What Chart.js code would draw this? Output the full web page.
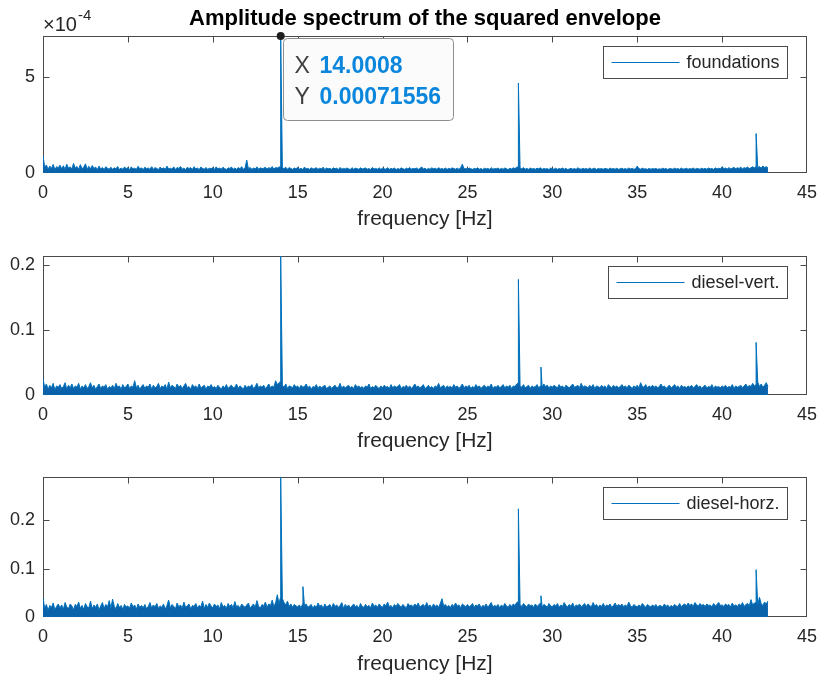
<!DOCTYPE html>
<html>
<head>
<meta charset="utf-8">
<script src="https://cdn.jsdelivr.net/npm/chart.js@4/dist/chart.umd.min.js"></script>
<style>
  html, body { margin: 0; padding: 0; background: #ffffff; }
  #wrap { position: relative; width: 817px; height: 680px; overflow: hidden; background: #ffffff; }
  #wrap canvas { position: absolute; left: 0; }
</style>
</head>
<body>
<div id="wrap">
  <canvas id="c1" width="817" height="235" style="top:0px"></canvas>
  <canvas id="c2" width="817" height="222" style="top:235px"></canvas>
  <canvas id="c3" width="817" height="223" style="top:457px"></canvas>
</div>
<script>
// ---- spectrum data -------------------------------------------------------
// Noise floor of each envelope spectrum, one value per spectral line
// (line spacing FREQ_STEP, starting at 0 Hz), plus the discrete peaks.
const FREQ_STEP = 0.1; // Hz

const xTicks = [0, 5, 10, 15, 20, 25, 30, 35, 40, 45];

const foundationsNoise = [
  9e-5,3.1e-5,4.2e-5,2e-5,3.6e-5,2.4e-5,4.5e-5,1.8e-5,3.3e-5,2.7e-5,
  4.1e-5,2.2e-5,3.8e-5,1.9e-5,4.6e-5,2.5e-5,3.2e-5,2.1e-5,5e-5,2.6e-5,
  3.4e-5,1.9e-5,4.4e-5,2.3e-5,3e-5,4.8e-5,2e-5,3.5e-5,2.2e-5,3.9e-5,
  2.4e-5,3.1e-5,1.7e-5,3.6e-5,2.1e-5,2.9e-5,1.8e-5,3.3e-5,2.5e-5,2e-5,
  3e-5,1.9e-5,2.7e-5,2.2e-5,3.4e-5,1.8e-5,2.6e-5,2e-5,3.1e-5,2.3e-5,
  2.8e-5,1.7e-5,3.2e-5,2.1e-5,2.5e-5,1.9e-5,3.5e-5,2.2e-5,2.7e-5,1.8e-5,
  3e-5,2.3e-5,2.6e-5,1.9e-5,3.3e-5,2e-5,2.8e-5,2.4e-5,1.8e-5,3.1e-5,
  2.2e-5,2.7e-5,1.9e-5,3.6e-5,2.1e-5,2.5e-5,2e-5,3.2e-5,1.8e-5,2.9e-5,
  2.4e-5,3.4e-5,2e-5,2.6e-5,1.7e-5,3e-5,2.3e-5,2.8e-5,1.9e-5,3.3e-5,
  2.1e-5,2.6e-5,1.8e-5,3.1e-5,2.4e-5,2e-5,2.9e-5,1.9e-5,2.5e-5,2.2e-5,
  2.8e-5,1.9e-5,3.2e-5,2.1e-5,2.6e-5,2e-5,3e-5,2.3e-5,1.8e-5,2.7e-5,
  2.4e-5,3.1e-5,2e-5,2.6e-5,1.9e-5,2.9e-5,2.2e-5,3.3e-5,2e-5,2.5e-5,
  6.8e-5,2.2e-5,2.9e-5,1.9e-5,2.6e-5,2.1e-5,3.2e-5,2e-5,2.7e-5,2.3e-5,
  2.5e-5,3e-5,2.1e-5,2.8e-5,2.4e-5,3.4e-5,2e-5,2.9e-5,2.6e-5,3.1e-5,
  3.2e-5,2.7e-5,2.3e-5,3e-5,2e-5,2.8e-5,2.4e-5,1.9e-5,2.6e-5,2.2e-5,
  2.9e-5,2e-5,2.5e-5,1.8e-5,3.1e-5,2.2e-5,2.4e-5,1.9e-5,2.7e-5,2.1e-5,
  2.3e-5,2.8e-5,1.9e-5,2.5e-5,2.1e-5,3e-5,1.8e-5,2.6e-5,2.2e-5,2.4e-5,
  1.9e-5,2.7e-5,2.2e-5,2.5e-5,1.8e-5,2.9e-5,2e-5,2.4e-5,2.1e-5,2.6e-5,
  2.2e-5,1.8e-5,2.8e-5,2e-5,2.5e-5,2.3e-5,1.9e-5,2.7e-5,2.1e-5,2.4e-5,
  2.6e-5,2e-5,2.3e-5,1.8e-5,2.9e-5,2.1e-5,2.4e-5,2e-5,2.7e-5,1.9e-5,
  2.5e-5,2.2e-5,2e-5,2.8e-5,1.9e-5,2.4e-5,2.1e-5,2.6e-5,1.8e-5,2.3e-5,
  2e-5,2.7e-5,2.2e-5,1.9e-5,2.5e-5,2.1e-5,2.9e-5,2e-5,2.4e-5,2.2e-5,
  2.6e-5,1.9e-5,2.3e-5,3.2e-5,2.1e-5,2.5e-5,1.8e-5,2.4e-5,2e-5,2.7e-5,
  2.2e-5,2.5e-5,1.9e-5,2.8e-5,2.1e-5,2.3e-5,2e-5,2.6e-5,1.9e-5,2.4e-5,
  2.1e-5,2.7e-5,2.3e-5,2e-5,2.5e-5,1.9e-5,2.8e-5,4.6e-5,2.2e-5,2.4e-5,
  2e-5,2.6e-5,2.2e-5,1.9e-5,2.4e-5,2.1e-5,2.7e-5,2e-5,2.3e-5,1.8e-5,
  2.5e-5,2.1e-5,2.4e-5,1.9e-5,2.8e-5,2e-5,2.3e-5,2.2e-5,2.6e-5,1.9e-5,
  2.4e-5,2e-5,2.6e-5,2.2e-5,1.8e-5,2.5e-5,2.1e-5,2.7e-5,2.3e-5,3e-5,
  3.3e-5,2.6e-5,2.2e-5,2.8e-5,2e-5,2.4e-5,1.9e-5,2.6e-5,2.1e-5,2.3e-5,
  2e-5,2.5e-5,2.2e-5,2.7e-5,1.9e-5,2.4e-5,2.1e-5,2.3e-5,1.8e-5,2.6e-5,
  2.2e-5,2e-5,2.5e-5,1.9e-5,2.3e-5,2.1e-5,2.6e-5,2e-5,2.4e-5,1.8e-5,
  2.1e-5,2.5e-5,2e-5,2.3e-5,1.9e-5,2.7e-5,2.2e-5,2e-5,2.4e-5,2.1e-5,
  2.3e-5,1.9e-5,2.6e-5,2e-5,2.2e-5,2.5e-5,1.8e-5,2.4e-5,2.1e-5,2.3e-5,
  2e-5,2.4e-5,2.2e-5,1.9e-5,2.6e-5,2.1e-5,2.3e-5,2e-5,2.5e-5,1.9e-5,
  2.2e-5,2.5e-5,2e-5,2.3e-5,1.9e-5,2.6e-5,2.1e-5,2.4e-5,2e-5,2.2e-5,
  3.6e-5,2.3e-5,2e-5,2.5e-5,2.1e-5,2.2e-5,1.9e-5,2.4e-5,2e-5,2.3e-5,
  2.1e-5,2.4e-5,1.9e-5,2.2e-5,2e-5,2.5e-5,2.1e-5,2.3e-5,1.8e-5,2.4e-5,
  2.2e-5,2e-5,2.5e-5,2.1e-5,2.3e-5,1.9e-5,2.6e-5,2e-5,2.2e-5,2.4e-5,
  2e-5,2.3e-5,2.1e-5,2.6e-5,1.9e-5,2.4e-5,2.2e-5,2e-5,2.5e-5,2.1e-5,
  2.4e-5,2e-5,2.6e-5,2.2e-5,2.3e-5,1.9e-5,2.7e-5,2.1e-5,2.5e-5,2.2e-5,
  3.2e-5,2.3e-5,2.6e-5,2.1e-5,2.8e-5,2.2e-5,2.5e-5,2.9e-5,2.3e-5,2.7e-5,
  2.4e-5,3e-5,2.2e-5,2.8e-5,2.5e-5,3.1e-5,2.3e-5,2.7e-5,3.3e-5,2.6e-5,
  3.5e-5,2.8e-5,3.4e-5,2.5e-5,3.7e-5,2.9e-5,3.3e-5,2.6e-5
];

const dieselVertNoise = [
  0.025,0.012,0.017,0.009,0.015,0.011,0.018,0.008,0.014,0.012,
  0.016,0.010,0.013,0.019,0.009,0.015,0.011,0.017,0.010,0.014,
  0.012,0.018,0.009,0.014,0.011,0.016,0.010,0.013,0.019,0.011,
  0.015,0.009,0.013,0.017,0.010,0.014,0.012,0.016,0.009,0.013,
  0.011,0.015,0.010,0.018,0.012,0.014,0.009,0.016,0.011,0.013,
  0.017,0.010,0.014,0.012,0.022,0.011,0.015,0.009,0.013,0.016,
  0.010,0.014,0.012,0.017,0.009,0.015,0.011,0.013,0.018,0.010,
  0.014,0.012,0.016,0.009,0.020,0.011,0.015,0.013,0.010,0.017,
  0.012,0.015,0.010,0.014,0.018,0.011,0.013,0.009,0.016,0.012,
  0.014,0.010,0.017,0.011,0.013,0.015,0.009,0.014,0.012,0.016,
  0.011,0.013,0.010,0.015,0.012,0.009,0.014,0.011,0.016,0.010,
  0.013,0.015,0.011,0.012,0.017,0.010,0.014,0.012,0.009,0.015,
  0.011,0.014,0.012,0.016,0.010,0.013,0.018,0.011,0.014,0.012,
  0.015,0.010,0.013,0.017,0.011,0.014,0.012,0.022,0.016,0.019,
  0.021,0.015,0.012,0.017,0.010,0.014,0.013,0.011,0.016,0.012,
  0.014,0.010,0.015,0.012,0.013,0.017,0.011,0.014,0.009,0.013,
  0.012,0.016,0.010,0.014,0.011,0.013,0.015,0.010,0.012,0.014,
  0.010,0.013,0.015,0.011,0.012,0.018,0.010,0.014,0.011,0.013,
  0.015,0.011,0.013,0.010,0.016,0.012,0.014,0.011,0.013,0.010,
  0.014,0.012,0.017,0.010,0.013,0.011,0.015,0.012,0.010,0.014,
  0.011,0.015,0.012,0.013,0.010,0.016,0.011,0.014,0.012,0.013,
  0.016,0.010,0.013,0.012,0.015,0.011,0.014,0.010,0.013,0.017,
  0.012,0.014,0.011,0.013,0.016,0.010,0.012,0.015,0.011,0.013,
  0.010,0.014,0.012,0.018,0.011,0.013,0.015,0.010,0.014,0.012,
  0.013,0.011,0.016,0.012,0.014,0.010,0.013,0.017,0.011,0.014,
  0.012,0.015,0.010,0.013,0.011,0.016,0.012,0.014,0.010,0.013,
  0.015,0.011,0.014,0.012,0.017,0.010,0.013,0.012,0.015,0.011,
  0.013,0.016,0.011,0.014,0.012,0.015,0.010,0.014,0.013,0.017,
  0.019,0.014,0.012,0.016,0.011,0.013,0.015,0.010,0.014,0.012,
  0.013,0.016,0.011,0.014,0.012,0.017,0.013,0.015,0.011,0.014,
  0.012,0.015,0.013,0.011,0.016,0.012,0.014,0.010,0.015,0.013,
  0.011,0.014,0.017,0.012,0.013,0.015,0.011,0.018,0.012,0.014,
  0.013,0.011,0.015,0.012,0.016,0.010,0.014,0.013,0.011,0.015,
  0.012,0.014,0.010,0.016,0.013,0.011,0.015,0.012,0.014,0.011,
  0.013,0.016,0.012,0.014,0.011,0.015,0.013,0.010,0.014,0.012,
  0.015,0.011,0.019,0.013,0.012,0.016,0.011,0.014,0.012,0.015,
  0.012,0.014,0.011,0.013,0.017,0.012,0.014,0.010,0.013,0.015,
  0.011,0.013,0.016,0.012,0.014,0.010,0.015,0.012,0.013,0.011,
  0.014,0.012,0.015,0.011,0.013,0.016,0.012,0.014,0.010,0.013,
  0.015,0.011,0.013,0.012,0.016,0.010,0.014,0.012,0.013,0.011,
  0.014,0.012,0.015,0.011,0.013,0.012,0.016,0.010,0.014,0.012,
  0.013,0.015,0.011,0.014,0.017,0.012,0.015,0.013,0.018,0.014,
  0.016,0.020,0.013,0.017,0.012,0.015,0.019,0.013
];

const dieselHorzNoise = [
  0.040,0.018,0.026,0.014,0.024,0.020,0.029,0.015,0.022,0.027,
  0.019,0.025,0.016,0.030,0.021,0.017,0.027,0.023,0.015,0.026,
  0.022,0.031,0.018,0.024,0.016,0.028,0.021,0.019,0.033,0.017,
  0.025,0.020,0.027,0.015,0.023,0.030,0.018,0.026,0.021,0.034,
  0.019,0.037,0.022,0.017,0.028,0.020,0.024,0.016,0.026,0.021,
  0.023,0.018,0.029,0.021,0.025,0.016,0.027,0.020,0.024,0.019,
  0.026,0.017,0.022,0.030,0.019,0.025,0.021,0.028,0.018,0.023,
  0.020,0.027,0.016,0.024,0.035,0.019,0.026,0.022,0.017,0.029,
  0.021,0.025,0.018,0.031,0.020,0.023,0.027,0.017,0.024,0.022,
  0.028,0.019,0.024,0.021,0.033,0.018,0.026,0.020,0.029,0.023,
  0.019,0.027,0.022,0.025,0.017,0.030,0.021,0.024,0.018,0.028,
  0.022,0.026,0.019,0.032,0.021,0.024,0.018,0.027,0.023,0.020,
  0.025,0.029,0.018,0.023,0.027,0.020,0.034,0.022,0.019,0.026,
  0.023,0.031,0.020,0.027,0.024,0.035,0.022,0.029,0.046,0.028,
  0.042,0.038,0.030,0.025,0.033,0.022,0.027,0.020,0.026,0.023,
  0.021,0.025,0.019,0.028,0.024,0.027,0.020,0.023,0.026,0.018,
  0.024,0.020,0.029,0.022,0.025,0.018,0.027,0.021,0.023,0.026,
  0.019,0.028,0.022,0.025,0.020,0.024,0.030,0.018,0.026,0.021,
  0.025,0.019,0.023,0.027,0.021,0.024,0.018,0.028,0.022,0.020,
  0.026,0.021,0.024,0.019,0.029,0.022,0.025,0.020,0.027,0.023,
  0.020,0.027,0.023,0.031,0.021,0.024,0.019,0.026,0.022,0.028,
  0.024,0.020,0.026,0.022,0.019,0.028,0.023,0.025,0.021,0.027,
  0.023,0.029,0.020,0.024,0.026,0.021,0.030,0.022,0.025,0.019,
  0.027,0.022,0.025,0.020,0.028,0.038,0.023,0.026,0.021,0.024,
  0.020,0.026,0.022,0.029,0.023,0.025,0.019,0.027,0.024,0.021,
  0.026,0.021,0.024,0.028,0.020,0.025,0.023,0.027,0.019,0.024,
  0.022,0.027,0.020,0.025,0.030,0.021,0.024,0.022,0.026,0.019,
  0.025,0.021,0.028,0.023,0.020,0.026,0.022,0.027,0.024,0.030,
  0.032,0.026,0.022,0.028,0.024,0.021,0.027,0.023,0.025,0.020,
  0.027,0.022,0.025,0.029,0.021,0.026,0.024,0.020,0.028,0.023,
  0.021,0.026,0.023,0.028,0.020,0.025,0.022,0.030,0.024,0.021,
  0.026,0.022,0.029,0.020,0.025,0.023,0.027,0.021,0.024,0.028,
  0.022,0.027,0.024,0.021,0.030,0.023,0.026,0.020,0.025,0.022,
  0.028,0.021,0.025,0.023,0.027,0.020,0.024,0.029,0.022,0.026,
  0.023,0.027,0.021,0.025,0.022,0.031,0.024,0.020,0.026,0.023,
  0.021,0.025,0.022,0.028,0.024,0.020,0.026,0.023,0.021,0.025,
  0.022,0.026,0.020,0.024,0.023,0.021,0.027,0.022,0.025,0.020,
  0.024,0.021,0.026,0.023,0.022,0.028,0.021,0.025,0.027,0.023,
  0.029,0.024,0.027,0.022,0.030,0.025,0.023,0.028,0.024,0.026,
  0.022,0.027,0.024,0.025,0.021,0.028,0.023,0.026,0.030,0.024,
  0.025,0.022,0.027,0.024,0.026,0.021,0.029,0.023,0.025,0.022,
  0.027,0.024,0.030,0.022,0.026,0.028,0.023,0.036,0.025,0.029,
  0.030,0.026,0.041,0.028,0.024,0.031,0.027,0.033
];

// Discrete components (shaft harmonics and sidebands)
const foundationsPeakFreq = [14.0008, 28.0016, 42.0024];
const foundationsPeakAmp  = [0.00071556, 0.00047, 0.000206];
const dieselVertPeakFreq  = [14.0008, 28.0016, 29.33, 42.0024];
const dieselVertPeakAmp   = [0.214, 0.178, 0.043, 0.081];
const dieselHorzPeakFreq  = [14.0008, 15.31, 28.0016, 29.33, 42.0024];
const dieselHorzPeakAmp   = [0.29, 0.063, 0.224, 0.044, 0.098];

// Axis limits and tick values
const yLimits = [0.00071556, 0.214, 0.29];
const yTicksFoundations = [0, 0.0005];
const yTicksDieselVert  = [0, 0.1, 0.2];
const yTicksDieselHorz  = [0, 0.1, 0.2];

const seriesLabels = ['foundations', 'diesel-vert.', 'diesel-horz.'];
const chartTitle = 'Amplitude spectrum of the squared envelope';
const xLabel = 'frequency [Hz]';
const datatipFreq = 14.0008;

// ---- styling ----------------------------------------------------------------
const FONT = '"Liberation Sans", Arial, Helvetica, sans-serif';
const LINE_COLOR = '#0072BD';
const FILL_COLOR = '#0a62ab';
const AXIS_COLOR = '#4a4a4a';
const TEXT_COLOR = '#262626';

Chart.defaults.font.family = FONT;
Chart.defaults.color = TEXT_COLOR;

function buildSeries(noise, peakFreq, peakAmp) {
  const pts = noise.map((v, i) => ({ x: Math.round(i * FREQ_STEP * 10) / 10, y: v }));
  peakFreq.forEach((f, k) => pts.push({ x: f, y: peakAmp[k] }));
  pts.sort((a, b) => a.x - b.x);
  return pts;
}

// Axes box with inward tick marks on all four sides
const axesFrame = {
  id: 'axesFrame',
  beforeDatasetsDraw(chart) {
    const { ctx, chartArea: a, scales: { x, y } } = chart;
    const L = Math.round(a.left) + 0.5, R = Math.round(a.right) - 0.5;
    const T = Math.round(a.top) + 0.5, B = Math.round(a.bottom) - 0.5;
    const len = 6;
    ctx.save();
    ctx.strokeStyle = AXIS_COLOR;
    ctx.lineWidth = 1;
    ctx.beginPath();
    x.ticks.forEach(t => {
      const px = Math.round(x.getPixelForValue(t.value)) + 0.5;
      if (px <= L + 1 || px >= R - 1) return;
      ctx.moveTo(px, B); ctx.lineTo(px, B - len);
      ctx.moveTo(px, T); ctx.lineTo(px, T + len);
    });
    y.ticks.forEach(t => {
      const py = Math.round(y.getPixelForValue(t.value)) + 0.5;
      if (py <= T + 1 || py >= B - 1) return;
      ctx.moveTo(L, py); ctx.lineTo(L + len, py);
      ctx.moveTo(R, py); ctx.lineTo(R - len, py);
    });
    ctx.stroke();
    ctx.strokeRect(L, T, R - L, B - T);
    ctx.restore();
  }
};

// Boxed legend in the upper right corner of the axes
const legendBox = {
  id: 'legendBox',
  afterDraw(chart) {
    const { ctx, chartArea: a } = chart;
    const ds = chart.data.datasets[0];
    ctx.save();
    ctx.font = '18px ' + FONT;
    const w = ctx.measureText(ds.label).width;
    const bw = Math.round(91 + w), bh = 32;
    const bx = Math.round(a.right - 20 - bw) + 0.5;
    const by = Math.round(a.top + 10) + 0.5;
    ctx.fillStyle = '#ffffff';
    ctx.fillRect(bx, by, bw, bh);
    ctx.strokeStyle = AXIS_COLOR;
    ctx.lineWidth = 1;
    ctx.strokeRect(bx, by, bw, bh);
    const cy = by + bh / 2;
    ctx.strokeStyle = ds.borderColor;
    ctx.beginPath();
    ctx.moveTo(bx + 8, cy);
    ctx.lineTo(bx + 76, cy);
    ctx.stroke();
    ctx.fillStyle = TEXT_COLOR;
    ctx.textAlign = 'left';
    ctx.textBaseline = 'middle';
    ctx.fillText(ds.label, bx + 83, cy + 1);
    ctx.restore();
  }
};

// Figure title centred over the top axes
const figTitle = {
  id: 'figTitle',
  afterDraw(chart) {
    const { ctx, chartArea: a } = chart;
    ctx.save();
    ctx.font = 'bold 22px ' + FONT;
    ctx.fillStyle = '#000000';
    ctx.textAlign = 'center';
    ctx.textBaseline = 'middle';
    ctx.fillText(chartTitle, (a.left + a.right) / 2, 19);
    ctx.restore();
  }
};

// Exponent multiplier of the y axis of the top axes
const yExponent = {
  id: 'yExponent',
  afterDraw(chart) {
    const { ctx, chartArea: a } = chart;
    ctx.save();
    ctx.fillStyle = TEXT_COLOR;
    ctx.textAlign = 'left';
    ctx.textBaseline = 'alphabetic';
    ctx.font = '20px ' + FONT;
    const base = '\u00d710';
    ctx.fillText(base, a.left, 31);
    const bw = ctx.measureText(base).width;
    ctx.font = '15px ' + FONT;
    ctx.fillText('-4', a.left + bw + 1, 20);
    ctx.restore();
  }
};

// Data tip marking the largest component of the top spectrum
const dataTip = {
  id: 'dataTip',
  afterDraw(chart) {
    const { ctx } = chart;
    const ds = chart.data.datasets[0];
    const idx = ds.data.findIndex(p => p.x === datatipFreq);
    if (idx < 0) return;
    const pt = ds.data[idx];
    const px = chart.scales.x.getPixelForValue(pt.x);
    const py = chart.scales.y.getPixelForValue(pt.y);
    const xs = String(pt.x), ys = String(pt.y);
    ctx.save();
    ctx.font = 'bold 23px ' + FONT;
    const vw = Math.max(ctx.measureText(xs).width, ctx.measureText(ys).width);
    const bx = Math.round(px + 2) + 0.5, by = Math.round(py + 2) + 0.5;
    const bw = Math.round(36 + vw + 12), bh = 82, r = 4;
    ctx.beginPath();
    ctx.moveTo(bx + r, by);
    ctx.lineTo(bx + bw - r, by);
    ctx.arcTo(bx + bw, by, bx + bw, by + r, r);
    ctx.lineTo(bx + bw, by + bh - r);
    ctx.arcTo(bx + bw, by + bh, bx + bw - r, by + bh, r);
    ctx.lineTo(bx + r, by + bh);
    ctx.arcTo(bx, by + bh, bx, by + bh - r, r);
    ctx.lineTo(bx, by + r);
    ctx.arcTo(bx, by, bx + r, by, r);
    ctx.closePath();
    ctx.fillStyle = '#fbfbfb';
    ctx.fill();
    ctx.strokeStyle = '#8e8e8e';
    ctx.lineWidth = 1;
    ctx.stroke();
    ctx.textBaseline = 'middle';
    ctx.textAlign = 'left';
    ctx.font = '23px ' + FONT;
    ctx.fillStyle = '#404040';
    ctx.fillText('X', bx + 11, by + 28);
    ctx.fillText('Y', bx + 11, by + 59);
    ctx.font = 'bold 23px ' + FONT;
    ctx.fillStyle = '#0a86dc';
    ctx.fillText(xs, bx + 36, by + 28);
    ctx.fillText(ys, bx + 36, by + 59);
    ctx.beginPath();
    ctx.arc(px, py, 4, 0, Math.PI * 2);
    ctx.fillStyle = '#1e1e1e';
    ctx.fill();
    ctx.restore();
  }
};

function makeChart(id, o) {
  return new Chart(document.getElementById(id), {
    type: 'line',
    data: {
      datasets: [{
        label: o.label,
        data: o.data,
        borderColor: LINE_COLOR,
        backgroundColor: FILL_COLOR,
        borderWidth: 1,
        pointRadius: 0,
        fill: 'origin',
        tension: 0
      }]
    },
    options: {
      responsive: false,
      animation: false,
      devicePixelRatio: 1,
      events: [],
      layout: { padding: { top: o.padTop, right: 10, left: 0, bottom: 0 } },
      plugins: { legend: { display: false }, tooltip: { enabled: false }, title: { display: false } },
      scales: {
        x: {
          type: 'linear',
          min: 0,
          max: 45,
          afterBuildTicks: s => { s.ticks = xTicks.map(v => ({ value: v })); },
          afterFit: s => { s.height = o.xAxisHeight; s.paddingLeft = 0; s.paddingRight = 0; },
          grid: { display: false, drawTicks: false },
          border: { display: false },
          ticks: { padding: 9, autoSkip: false, maxRotation: 0, font: { size: 18 }, color: TEXT_COLOR },
          title: {
            display: true,
            text: xLabel,
            color: TEXT_COLOR,
            font: { size: 21 },
            padding: { top: 0, bottom: o.titlePad }
          }
        },
        y: {
          type: 'linear',
          min: 0,
          max: o.yMax,
          afterBuildTicks: s => { s.ticks = o.yTicks.map(v => ({ value: v })); },
          afterFit: s => { s.width = 43; s.paddingTop = 0; s.paddingBottom = 0; },
          grid: { display: false, drawTicks: false },
          border: { display: false },
          ticks: { padding: 8, font: { size: 18 }, color: TEXT_COLOR, callback: o.fmt }
        }
      }
    },
    plugins: [axesFrame, legendBox].concat(o.extra || [])
  });
}

makeChart('c1', {
  label: seriesLabels[0],
  data: buildSeries(foundationsNoise, foundationsPeakFreq, foundationsPeakAmp),
  yMax: yLimits[0],
  yTicks: yTicksFoundations,
  fmt: v => String(Math.round(v * 1e4)),
  padTop: 36,
  xAxisHeight: 62,
  titlePad: 3.4,
  extra: [figTitle, yExponent, dataTip]
});

makeChart('c2', {
  label: seriesLabels[1],
  data: buildSeries(dieselVertNoise, dieselVertPeakFreq, dieselVertPeakAmp),
  yMax: yLimits[1],
  yTicks: yTicksDieselVert,
  fmt: v => String(v),
  padTop: 21,
  xAxisHeight: 62,
  titlePad: 3.4
});

makeChart('c3', {
  label: seriesLabels[2],
  data: buildSeries(dieselHorzNoise, dieselHorzPeakFreq, dieselHorzPeakAmp),
  yMax: yLimits[2],
  yTicks: yTicksDieselHorz,
  fmt: v => String(v),
  padTop: 20,
  xAxisHeight: 63,
  titlePad: 3.4
});
</script>
</body>
</html>
